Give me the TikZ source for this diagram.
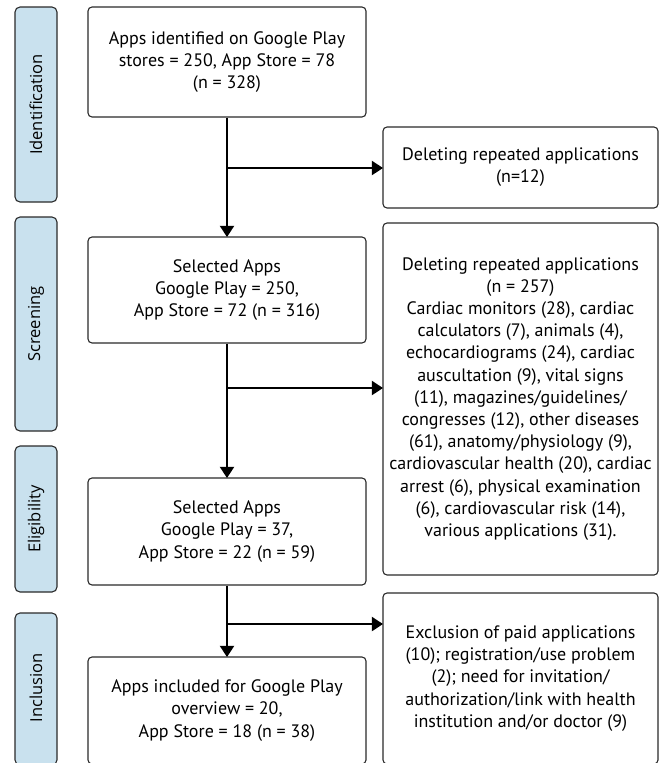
\documentclass[tikz,border=0pt]{standalone}
\usepackage{fontspec}
\setmainfont{PT Sans}
\newfontfamily\sidefont{Open Sans}
\usetikzlibrary{arrows.meta}
\definecolor{barblue}{HTML}{C9E1EE}
\definecolor{edgegray}{HTML}{2A2A2A}
\tikzset{
  flowbox/.style={draw=edgegray, line width=1.1pt, rounded corners=4pt, fill=white,
    minimum width=278pt, inner sep=0pt, align=center,
    font=\fontsize{18}{22.2}\selectfont},
  sidebox/.style={flowbox, minimum width=275pt},
  phasebar/.style={draw=edgegray, line width=1.1pt, rounded corners=5pt, fill=barblue,
    minimum width=42pt, inner sep=0pt},
  phaselabel/.style={rotate=90, font=\sidefont\fontsize{16.5}{20}\selectfont, inner sep=0pt},
  flowline/.style={line width=2pt, draw=black},
  flowarrow/.style={flowline, -{Triangle[length=11pt,width=14pt]}, shorten >=-0.5pt}
}
\begin{document}
\begin{tikzpicture}[x=1pt,y=-1pt]
\useasboundingbox (0,0) rectangle (661,763);
% phase bars
\node[phasebar, minimum height=195pt] (s1) at (36,104.5) {};
\node[phaselabel] (l1) at (s1.center) {Identification};
\node[phasebar, minimum height=214pt] (s2) at (36,324) {};
\node[phaselabel] (l2) at (s2.center) {Screening};
\node[phasebar, minimum height=146pt] (s3) at (36,519) {};
\node[phaselabel] (l3) at (s3.center) {Eligibility};
\node[phasebar, minimum height=152pt] (s4) at (36,689) {};
\node[phaselabel] (l4) at (36,687.5) {Inclusion};
% main boxes
\node[flowbox, minimum height=110pt] (b1) at (227,62)
  {Apps identified on Google Play\\stores = 250, App Store = 78\\(n = 328)};
\node[flowbox, minimum height=106pt] (b2) at (227,290)
  {Selected Apps\\Google Play = 250,\\App Store = 72 (n = 316)};
\node[flowbox, minimum height=107pt] (b3) at (227,531.5)
  {Selected Apps\\Google Play = 37,\\App Store = 22 (n = 59)};
\node[flowbox, minimum height=107pt] (b4) at (227,710.5)
  {Apps included for Google Play\\overview = 20,\\App Store = 18 (n = 38)};
% side boxes
\node[sidebox, minimum height=81pt] (r1) at (520.5,167.5)
  {Deleting repeated applications\\(n=12)};
\node[sidebox, minimum height=352pt] (r2) at (520.5,399)
  {Deleting repeated applications\\(n = 257)\\Cardiac monitors (28), cardiac\\calculators (7), animals (4),\\echocardiograms (24), cardiac\\auscultation (9), vital signs\\(11), magazines/guidelines/\\congresses (12), other diseases\\(61), anatomy/physiology (9),\\cardiovascular health (20), cardiac\\arrest (6), physical examination\\(6), cardiovascular risk (14),\\various applications (31).};
\node[sidebox, minimum height=171pt] (r3) at (520.5,678.5)
  {Exclusion of paid applications\\(10); registration/use problem\\(2); need for invitation/\\authorization/link with health\\institution and/or doctor (9)};
% junctions
\coordinate (j1) at (227,168);
\coordinate (j2) at (227,388);
\coordinate (j3) at (227,624);
% connectors
\draw[flowarrow] (b1.south) -- (b2.north);
\draw[flowarrow] (j1) -- (j1 -| r1.west);
\draw[flowarrow] (b2.south) -- (b3.north);
\draw[flowarrow] (j2) -- (j2 -| r2.west);
\draw[flowarrow] (b3.south) -- (b4.north);
\draw[flowarrow] (j3) -- (j3 -| r3.west);
\end{tikzpicture}
\end{document}
